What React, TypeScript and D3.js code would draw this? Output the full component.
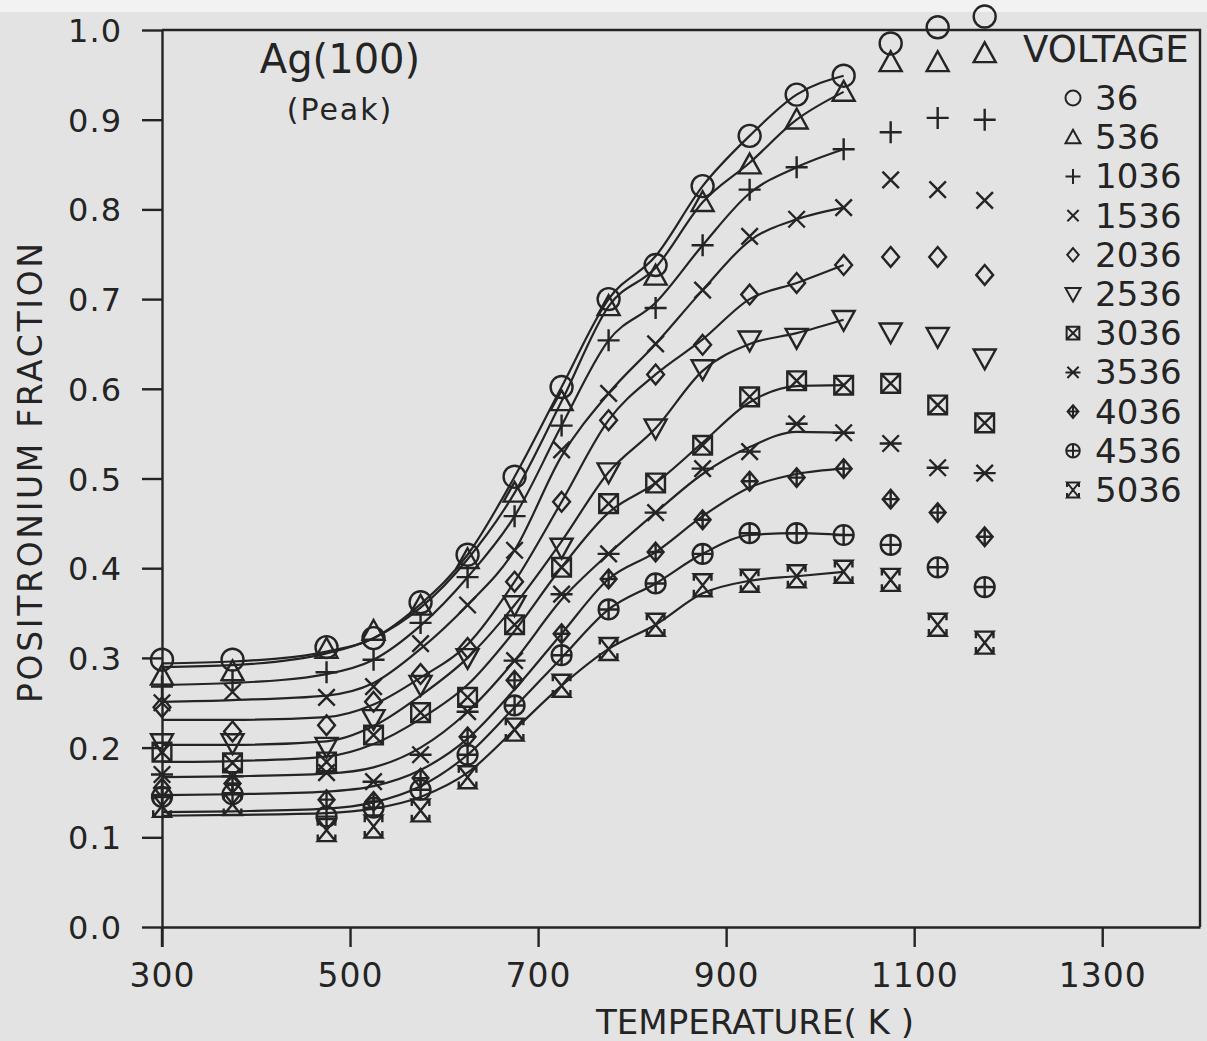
import React, { useEffect, useRef } from "react";
import * as d3 from "d3";

// temperatures (K) of the measurement columns
const temps = [300, 375, 475, 525, 575, 625, 675, 725, 775, 825, 875, 925, 975, 1025, 1075, 1125, 1175];
// the fitted curves only run over the first 14 temperatures
const fitCount = 14;

const voltages = ["36", "536", "1036", "1536", "2036", "2536", "3036", "3536", "4036", "4536", "5036"];

// measured points
const v36 = [0.298, 0.298, 0.312, 0.322, 0.362, 0.415, 0.502, 0.602, 0.7, 0.738, 0.826, 0.882, 0.928, 0.949, 0.985, 1.003, 1.015];
const v536 = [0.28, 0.285, 0.31, 0.33, 0.358, 0.41, 0.484, 0.586, 0.692, 0.726, 0.808, 0.85, 0.9, 0.931, 0.964, 0.964, 0.974];
const v1036 = [0.268, 0.275, 0.284, 0.298, 0.339, 0.39, 0.458, 0.559, 0.654, 0.69, 0.76, 0.822, 0.847, 0.867, 0.886, 0.902, 0.9];
const v1536 = [0.25, 0.262, 0.256, 0.268, 0.316, 0.359, 0.42, 0.532, 0.595, 0.65, 0.71, 0.77, 0.789, 0.802, 0.833, 0.822, 0.81];
const v2036 = [0.245, 0.218, 0.225, 0.251, 0.282, 0.311, 0.385, 0.474, 0.565, 0.616, 0.649, 0.705, 0.718, 0.738, 0.747, 0.747, 0.727];
const v2536 = [0.205, 0.205, 0.201, 0.232, 0.27, 0.3, 0.359, 0.423, 0.507, 0.556, 0.622, 0.654, 0.657, 0.677, 0.663, 0.658, 0.634];
const v3036 = [0.195, 0.183, 0.184, 0.214, 0.239, 0.256, 0.337, 0.401, 0.472, 0.495, 0.537, 0.591, 0.609, 0.604, 0.606, 0.582, 0.562];
const v3536 = [0.17, 0.168, 0.172, 0.162, 0.192, 0.24, 0.297, 0.371, 0.416, 0.462, 0.511, 0.53, 0.561, 0.551, 0.539, 0.512, 0.506];
const v4036 = [0.155, 0.16, 0.142, 0.14, 0.166, 0.212, 0.275, 0.327, 0.388, 0.418, 0.454, 0.497, 0.501, 0.511, 0.477, 0.462, 0.435];
const v4536 = [0.145, 0.148, 0.123, 0.133, 0.153, 0.192, 0.247, 0.303, 0.354, 0.383, 0.416, 0.439, 0.439, 0.437, 0.426, 0.401, 0.379];
const v5036 = [0.135, 0.137, 0.108, 0.112, 0.13, 0.167, 0.22, 0.269, 0.31, 0.337, 0.381, 0.386, 0.391, 0.396, 0.387, 0.337, 0.317];

// fitted curves at the same temperatures
const f36 = [0.294, 0.296, 0.307, 0.322, 0.36, 0.415, 0.502, 0.602, 0.7, 0.748, 0.826, 0.882, 0.928, 0.949];
const f536 = [0.29, 0.292, 0.305, 0.322, 0.356, 0.41, 0.484, 0.586, 0.692, 0.735, 0.808, 0.852, 0.9, 0.931];
const f1036 = [0.27, 0.272, 0.282, 0.298, 0.336, 0.39, 0.458, 0.559, 0.654, 0.696, 0.76, 0.818, 0.847, 0.867];
const f1536 = [0.251, 0.253, 0.258, 0.272, 0.31, 0.359, 0.42, 0.525, 0.595, 0.65, 0.71, 0.765, 0.789, 0.802];
const f2036 = [0.231, 0.231, 0.234, 0.248, 0.278, 0.315, 0.385, 0.474, 0.565, 0.616, 0.655, 0.7, 0.718, 0.738];
const f2536 = [0.203, 0.203, 0.207, 0.224, 0.258, 0.3, 0.359, 0.43, 0.507, 0.556, 0.62, 0.65, 0.662, 0.677];
const f3036 = [0.184, 0.185, 0.19, 0.204, 0.232, 0.27, 0.33, 0.401, 0.462, 0.495, 0.54, 0.585, 0.603, 0.604];
const f3536 = [0.167, 0.168, 0.171, 0.178, 0.2, 0.24, 0.297, 0.365, 0.416, 0.462, 0.505, 0.535, 0.552, 0.551];
const f4036 = [0.147, 0.148, 0.151, 0.157, 0.175, 0.21, 0.265, 0.327, 0.388, 0.418, 0.458, 0.49, 0.505, 0.511];
const f4536 = [0.128, 0.129, 0.132, 0.139, 0.157, 0.192, 0.245, 0.3, 0.354, 0.383, 0.416, 0.437, 0.439, 0.437];
const f5036 = [0.124, 0.125, 0.127, 0.132, 0.145, 0.172, 0.22, 0.269, 0.31, 0.337, 0.372, 0.386, 0.391, 0.396];

const seriesValues = [v36, v536, v1036, v1536, v2036, v2536, v3036, v3536, v4036, v4536, v5036];
const fitValues = [f36, f536, f1036, f1536, f2036, f2536, f3036, f3536, f4036, f4536, f5036];

const xTicks = [300, 500, 700, 900, 1100, 1300];
const yTicks = [0, 0.1, 0.2, 0.3, 0.4, 0.5, 0.6, 0.7, 0.8, 0.9, 1.0];

const INK = "#242424";
const FONT = "DejaVu Sans";

// marker shapes, s = half size
const circ = (s) => `M${-s},0A${s},${s} 0 1,0 ${s},0A${s},${s} 0 1,0 ${-s},0`;
const dia = (s) => `M0,${-s}L${s * 0.85},0L0,${s}L${-s * 0.85},0Z`;
const shapes = [
  (s) => circ(s),
  (s) => `M0,${-s}L${s},${s * 0.8}L${-s},${s * 0.8}Z`,
  (s) => `M${-s},0H${s}M0,${-s}V${s}`,
  (s) => { const k = s * 0.75; return `M${-k},${-k}L${k},${k}M${-k},${k}L${k},${-k}`; },
  (s) => dia(s * 0.9),
  (s) => `M0,${s}L${s},${-s * 0.8}L${-s},${-s * 0.8}Z`,
  (s) => { const k = s * 0.85; return `M${-k},${-k}H${k}V${k}H${-k}ZM${-k},${-k}L${k},${k}M${-k},${k}L${k},${-k}`; },
  (s) => { const k = s * 0.75; return `M${-k},${-k}L${k},${k}M${-k},${k}L${k},${-k}M${-s},0H${s}`; },
  (s) => dia(s * 0.85) + `M${-s * 0.72},0H${s * 0.72}M0,${-s * 0.85}V${s * 0.85}`,
  (s) => circ(s * 0.9) + `M${-s * 0.9},0H${s * 0.9}M0,${-s * 0.9}V${s * 0.9}`,
  (s) => { const k = s * 0.8; return `M${-k},${-s}H${k}L${-k},${s}H${k}ZM${-k},${-s}V${-s * 0.4}M${k},${-s}V${-s * 0.4}M${-k},${s}V${s * 0.4}M${k},${s}V${s * 0.4}`; },
];

const App = () => {
  const ref = useRef(null);

  useEffect(() => {
    const width = 1207;
    const height = 1041;
    const svg = d3.select(ref.current).attr("width", width).attr("height", height);
    svg.selectAll("*").remove();

    svg.append("rect").attr("width", width).attr("height", height).attr("fill", "#e3e3e3");
    svg.append("rect").attr("width", width).attr("height", 12).attr("fill", "#f2f2f2");

    const x = d3.scaleLinear().domain([300, 1404]).range([162, 1200]);
    const y = d3.scaleLinear().domain([0, 1]).range([927, 30]);

    const g = svg.append("g");

    // axes
    const gx = g
      .append("g")
      .attr("transform", `translate(0,${y(0)})`)
      .call(d3.axisBottom(x).tickValues(xTicks).tickSize(20).tickSizeOuter(0).tickFormat(d3.format("d")));
    gx.selectAll("text").attr("y", 60).attr("dy", 0);

    const gy = g
      .append("g")
      .attr("transform", `translate(${x(300)},0)`)
      .call(d3.axisLeft(y).tickValues(yTicks).tickSize(20).tickSizeOuter(0).tickFormat(d3.format(".1f")));
    gy.selectAll("text").attr("x", -40).attr("dy", "0.36em");

    [gx, gy].forEach((ax) => {
      ax.selectAll("path,line").attr("stroke", INK).attr("stroke-width", 2.4);
      ax.selectAll("text")
        .attr("fill", INK)
        .style("font-family", FONT)
        .style("font-size", ax === gx ? "33px" : "32px")
        .style("letter-spacing", "1px");
    });
    // left axis runs down past the bottom like the 300 tick
    gy.append("line").attr("x1", 0).attr("x2", 0).attr("y1", y(0)).attr("y2", y(0) + 20).attr("stroke", INK).attr("stroke-width", 2.4);

    // top and right frame
    g.append("path")
      .attr("d", `M${x(300)},${y(1)}H${x(1404)}V${y(0)}`)
      .attr("fill", "none")
      .attr("stroke", INK)
      .attr("stroke-width", 2.4);

    // fitted curves
    const line = d3
      .line()
      .x((d) => x(d[0]))
      .y((d) => y(d[1]))
      .curve(d3.curveMonotoneX);

    fitValues.forEach((vals) => {
      const pts = temps.slice(0, fitCount).map((t, i) => [t, vals[i]]);
      g.append("path")
        .attr("d", line(pts))
        .attr("fill", "none")
        .attr("stroke", INK)
        .attr("stroke-width", 2.2);
    });

    // data markers
    seriesValues.forEach((vals, si) => {
      g.append("g")
        .selectAll("path")
        .data(temps.map((t, i) => [t, vals[i]]))
        .enter()
        .append("path")
        .attr("transform", (d) => `translate(${x(d[0])},${y(d[1])})`)
        .attr("d", shapes[si](11))
        .attr("fill", "none")
        .attr("stroke", INK)
        .attr("stroke-width", 2.4);
    });

    // title
    g.append("text")
      .attr("x", 340)
      .attr("y", 73)
      .attr("text-anchor", "middle")
      .attr("fill", INK)
      .style("font-family", FONT)
      .style("font-size", "40px")
      .text("Ag(100)");
    g.append("text")
      .attr("x", 340)
      .attr("y", 120)
      .attr("text-anchor", "middle")
      .attr("fill", INK)
      .style("font-family", FONT)
      .style("font-size", "30px")
      .style("letter-spacing", "2px")
      .text("(Peak)");

    // legend
    g.append("text")
      .attr("x", 1023)
      .attr("y", 62)
      .attr("fill", INK)
      .style("font-family", FONT)
      .style("font-size", "37px")
      .text("VOLTAGE");

    const leg = g
      .append("g")
      .selectAll("g")
      .data(voltages)
      .enter()
      .append("g")
      .attr("transform", (d, i) => `translate(1073,${98 + i * 39.2})`);
    leg.append("path")
      .attr("d", (d, i) => shapes[i](7.5))
      .attr("fill", "none")
      .attr("stroke", INK)
      .attr("stroke-width", 2);
    leg.append("text")
      .attr("x", 22)
      .attr("y", 12)
      .attr("fill", INK)
      .style("font-family", FONT)
      .style("font-size", "34px")
      .text((d) => d);

    // axis titles
    g.append("text")
      .attr("x", 755)
      .attr("y", 1034)
      .attr("text-anchor", "middle")
      .attr("fill", INK)
      .attr("textLength", 318)
      .attr("lengthAdjust", "spacingAndGlyphs")
      .style("font-family", FONT)
      .style("font-size", "34px")
      .text("TEMPERATURE( K )");
    g.append("text")
      .attr("transform", "translate(42,473) rotate(-90)")
      .attr("text-anchor", "middle")
      .attr("fill", INK)
      .attr("textLength", 460)
      .attr("lengthAdjust", "spacing")
      .style("font-family", FONT)
      .style("font-size", "33px")
      .text("POSITRONIUM FRACTION");
  }, []);

  return (
    <div style={{ position: "absolute", left: 0, top: 0 }}>
      <svg ref={ref} style={{ display: "block" }}></svg>
    </div>
  );
};

export default App;
